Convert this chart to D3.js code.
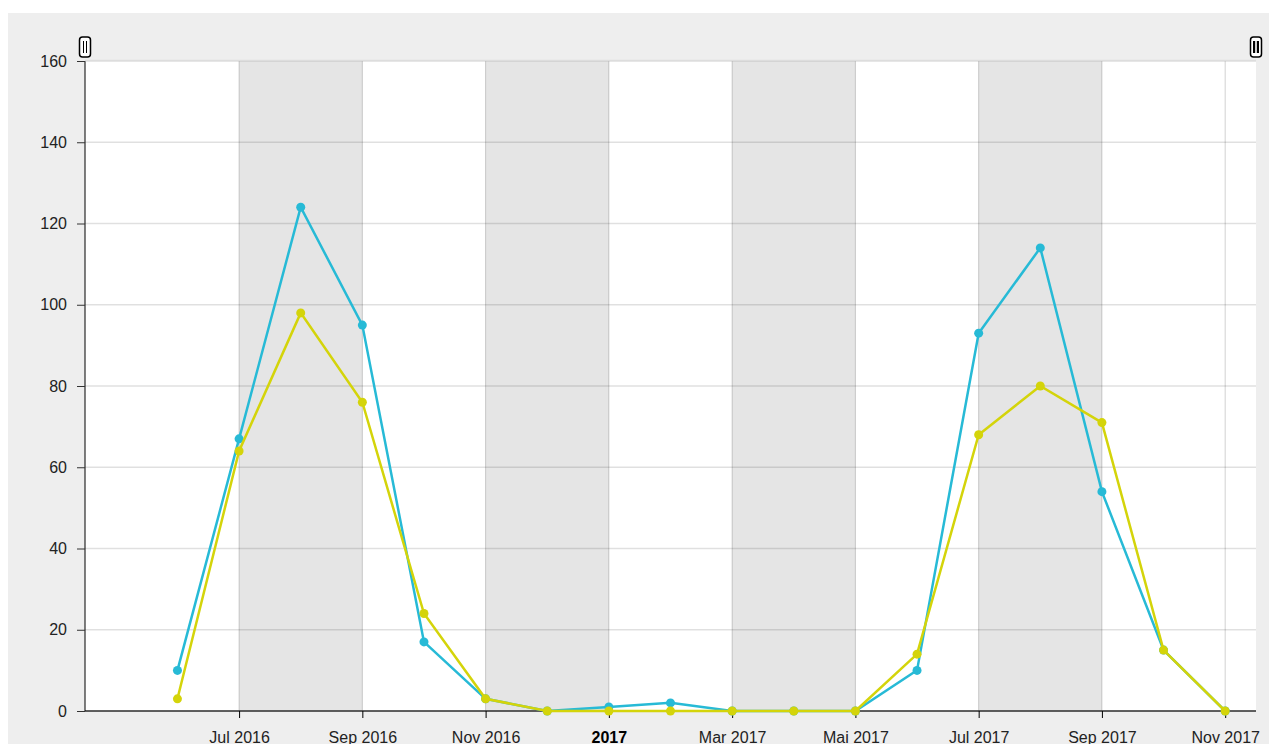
<!DOCTYPE html>
<html>
<head>
<meta charset="utf-8">
<script src="https://cdn.jsdelivr.net/npm/d3@7"></script>
<style>
    body { margin: 0; background: #fff; font-family: "Liberation Sans", Arial, sans-serif; }
    svg text { font-family: "Liberation Sans", Arial, sans-serif; }
</style>
</head>
<body>
<div id="chart"></div>
<script>
// months shown (one point per month), index 0 = Jun 2016
var months = ['Jun 2016', 'Jul 2016', 'Aug 2016', 'Sep 2016', 'Oct 2016', 'Nov 2016', 'Dec 2016',
    'Jan 2017', 'Feb 2017', 'Mar 2017', 'Apr 2017', 'Mai 2017', 'Jun 2017', 'Jul 2017', 'Aug 2017',
    'Sep 2017', 'Oct 2017', 'Nov 2017'];
var series_blue = [10, 67, 124, 95, 17, 3, 0, 1, 2, 0, 0, 0, 10, 93, 114, 54, 15, 0];
var series_yellow = [3, 64, 98, 76, 24, 3, 0, 0, 0, 0, 0, 0, 14, 68, 80, 71, 15, 0];
// tick labels every second month
var x_ticks = [1, 3, 5, 7, 9, 11, 13, 15, 17];
var x_tick_labels = ['Jul 2016', 'Sep 2016', 'Nov 2016', '2017', 'Mar 2017', 'Mai 2017', 'Jul 2017', 'Sep 2017', 'Nov 2017'];
var y_ticks = [0, 20, 40, 60, 80, 100, 120, 140, 160];

var width = 1269, height = 744;
var margin = {left: 85, right: 13, top: 61, bottom: 33};

var svg = d3.select('#chart').append('svg')
    .attr('width', width)
    .attr('height', height);

// panel background
svg.append('rect').attr('x', 8).attr('y', 13)
    .attr('width', width - 8).attr('height', height - 13)
    .attr('fill', '#eeeeee');

var x = d3.scaleLinear().domain([-1.5, 17.5]).range([margin.left, width - margin.right]);
var y = d3.scaleLinear().domain([0, 160]).range([height - margin.bottom, margin.top]);

var plot = svg.append('g');

// plot area
plot.append('rect')
    .attr('x', x.range()[0]).attr('y', y(160))
    .attr('width', x.range()[1] - x.range()[0])
    .attr('height', y(0) - y(160))
    .attr('fill', '#fff');

// alternating shaded bands between ticks
var bands = [];
for (var i = 0; i < x_ticks.length - 1; i += 2) {
    bands.push([x_ticks[i], x_ticks[i + 1]]);
}
plot.selectAll('.band').data(bands).enter().append('rect')
    .attr('class', 'band')
    .attr('x', function (d) { return x(d[0]); })
    .attr('width', function (d) { return x(d[1]) - x(d[0]); })
    .attr('y', y(160))
    .attr('height', y(0) - y(160))
    .attr('fill', '#e5e5e5');

// horizontal grid
plot.selectAll('.hgrid').data(y_ticks).enter().append('line')
    .attr('class', 'hgrid')
    .attr('x1', x.range()[0]).attr('x2', x.range()[1])
    .attr('y1', function (d) { return y(d); })
    .attr('y2', function (d) { return y(d); })
    .attr('stroke', 'rgba(0,0,0,0.12)')
    .attr('stroke-width', 1.5);

// vertical grid
plot.selectAll('.vgrid').data(x_ticks).enter().append('line')
    .attr('class', 'vgrid')
    .attr('x1', function (d) { return x(d); })
    .attr('x2', function (d) { return x(d); })
    .attr('y1', y(160)).attr('y2', y(0))
    .attr('stroke', 'rgba(0,0,0,0.18)')
    .attr('stroke-width', 1);

// axes
var x_axis = d3.axisBottom(x)
    .tickValues(x_ticks)
    .tickSize(7)
    .tickPadding(14)
    .tickFormat(function (d, i) { return x_tick_labels[i]; });
var gx = svg.append('g')
    .attr('transform', 'translate(0,' + y(0) + ')')
    .call(x_axis);
gx.select('.domain').attr('stroke', '#333').attr('stroke-width', 1.5).attr('d', 'M' + x.range()[0] + ',0H' + x.range()[1]);
gx.selectAll('.tick line').attr('stroke', '#000');
gx.selectAll('.tick text')
    .attr('font-size', 16)
    .attr('font-weight', function (d, i) { return x_tick_labels[i] === '2017' ? 'bold' : 'normal'; })
    .attr('fill', function (d, i) { return x_tick_labels[i] === '2017' ? '#000' : '#222'; });

var y_axis = d3.axisLeft(y).tickValues(y_ticks).tickSize(8).tickPadding(10);
var gy = svg.append('g')
    .attr('transform', 'translate(' + x.range()[0] + ',0)')
    .call(y_axis);
gy.select('.domain').attr('stroke', '#000').attr('d', 'M0,' + y(160) + 'V' + y(0));
gy.selectAll('.tick line').attr('stroke', '#333');
gy.selectAll('.tick text').attr('font-size', 16).attr('fill', '#222');

// top edge of plot
svg.append('line')
    .attr('x1', x.range()[0]).attr('x2', x.range()[1])
    .attr('y1', y(160) - 0.5).attr('y2', y(160) - 0.5)
    .attr('stroke', '#dddddd').attr('stroke-width', 1.5);

// lines and dots
var line = d3.line()
    .x(function (d, i) { return x(i); })
    .y(function (d) { return y(d); });

function draw_series(values, colour) {
    svg.append('path').datum(values)
        .attr('d', line)
        .attr('fill', 'none')
        .attr('stroke', colour)
        .attr('stroke-width', 2.5);
    svg.append('g').selectAll('circle').data(values).enter().append('circle')
        .attr('cx', function (d, i) { return x(i); })
        .attr('cy', function (d) { return y(d); })
        .attr('r', 4.5)
        .attr('fill', colour);
}
draw_series(series_blue, '#27bad6');
draw_series(series_yellow, '#d4d40a');

// brush handles
function add_handle(cx, filled) {
    var g = svg.append('g').attr('transform', 'translate(' + cx + ',' + 47 + ')');
    g.append('rect').attr('x', -5.5).attr('y', -10).attr('width', 11).attr('height', 20)
        .attr('rx', 3).attr('fill', '#fff').attr('stroke', '#000').attr('stroke-width', 1.5);
    if (filled) {
        g.append('rect').attr('x', -3).attr('y', -6).attr('width', 2.2).attr('height', 12).attr('fill', '#000');
        g.append('rect').attr('x', 0.8).attr('y', -6).attr('width', 2.2).attr('height', 12).attr('fill', '#000');
    } else {
        g.append('line').attr('x1', -1.5).attr('x2', -1.5).attr('y1', -6).attr('y2', 6).attr('stroke', '#000');
        g.append('line').attr('x1', 1.5).attr('x2', 1.5).attr('y1', -6).attr('y2', 6).attr('stroke', '#000');
    }
}
add_handle(x.range()[0], false);
add_handle(x.range()[1], true);
</script>
</body>
</html>
